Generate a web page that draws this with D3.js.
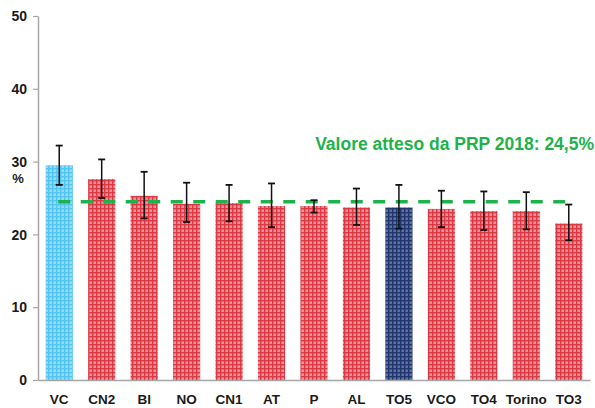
<!DOCTYPE html>
<html><head><meta charset="utf-8">
<script src="https://cdn.jsdelivr.net/npm/d3@7"></script>
<style>html,body{margin:0;padding:0;background:#fff;}svg{display:block;}</style>
</head><body>
<svg id="chart" width="595" height="408"></svg>
<script>
const categories = ["VC","CN2","BI","NO","CN1","AT","P","AL","TO5","VCO","TO4","Torino","TO3"];
const values = [29.5, 27.6, 25.3, 24.2, 24.3, 23.9, 23.9, 23.7, 23.7, 23.5, 23.2, 23.2, 21.5];
const lowerCI = [26.8, 25.0, 22.2, 21.7, 21.8, 21.0, 23.0, 21.3, 20.8, 21.0, 20.6, 20.7, 19.2];
const upperCI = [32.2, 30.3, 28.6, 27.1, 26.8, 27.0, 24.7, 26.3, 26.8, 26.0, 25.9, 25.8, 24.1];
const barGroup = ["blue","red","red","red","red","red","red","red","navy","red","red","red","red"];
const yTicks = [0, 10, 20, 30, 40, 50];
const target = 24.5;
const targetLabel = "Valore atteso da PRP 2018: 24,5%";
const yLabel = "%";

const svg = d3.select("#chart");
const defs = svg.append("defs");
const pats = {
  blue: {bg: "#93dbf8", line: "#52c5f0"},
  red: {bg: "#ee9097", line: "#db3a45"},
  navy: {bg: "#5a6fa6", line: "#22366c"}
};
Object.entries(pats).forEach(([k, c]) => {
  const p = defs.append("pattern").attr("id", "pat-" + k)
    .attr("patternUnits", "userSpaceOnUse").attr("width", 4).attr("height", 4);
  p.append("rect").attr("width", 4).attr("height", 4).attr("fill", c.bg);
  p.append("rect").attr("x", 0).attr("y", 0).attr("width", 1.4).attr("height", 4).attr("fill", c.line);
  p.append("rect").attr("x", 0).attr("y", 0).attr("width", 4).attr("height", 1.4).attr("fill", c.line);
});

const x = d3.scaleBand().domain(categories).range([38, 590]).paddingInner(0.36).paddingOuter(0.18);
const y = d3.scaleLinear().domain([0, 50]).range([380, 16]);

// y axis
const yAxis = d3.axisLeft(y).tickValues(yTicks).tickSize(5).tickPadding(6).tickSizeOuter(0);
const gy = svg.append("g").attr("transform", "translate(38,0)").call(yAxis);
gy.select(".domain").attr("stroke", "#a6a6a6").attr("stroke-width", 1.5);
gy.selectAll(".tick line").attr("stroke", "#a6a6a6").attr("stroke-width", 1.2);
gy.selectAll(".tick text").attr("fill", "#1a1a1a").attr("font-family", "Liberation Sans, Arial, sans-serif")
  .attr("font-size", 14).attr("font-weight", "bold").attr("dy", "0.34em");

svg.append("text").attr("x", 18).attr("y", 183).attr("text-anchor", "middle")
  .attr("font-family", "Liberation Sans, Arial, sans-serif").attr("font-size", 13).attr("font-weight", "bold")
  .attr("fill", "#1a1a1a").text(yLabel);

// bars
const data = categories.map((c, i) => ({c, v: values[i], lo: lowerCI[i], hi: upperCI[i], g: barGroup[i]}));
svg.append("g").selectAll("rect").data(data).join("rect")
  .attr("x", d => x(d.c)).attr("width", x.bandwidth())
  .attr("y", d => y(d.v)).attr("height", d => y(0) - y(d.v))
  .attr("fill", d => "url(#pat-" + d.g + ")");

// x axis baseline + labels
const xAxis = d3.axisBottom(x).tickSize(0).tickPadding(14).tickSizeOuter(0);
const gx = svg.append("g").attr("transform", "translate(0,380)").call(xAxis);
gx.select(".domain").attr("stroke", "#a6a6a6").attr("stroke-width", 1.5);
gx.selectAll(".tick text").attr("fill", "#1a1a1a").attr("font-family", "Liberation Sans, Arial, sans-serif")
  .attr("font-size", 13.5).attr("font-weight", "bold");

// target dashed line
svg.append("line")
  .attr("x1", x(categories[0]) + x.bandwidth() / 2 - 1)
  .attr("x2", x(categories[categories.length - 1]) + x.bandwidth() / 2 - 3)
  .attr("y1", y(target)).attr("y2", y(target))
  .attr("stroke", "#1db34a").attr("stroke-width", 3.5).attr("stroke-dasharray", "12,10.5");

// error bars
const eb = svg.append("g").attr("stroke", "#111").attr("fill", "none");
data.forEach(d => {
  const cx = x(d.c) + x.bandwidth() / 2;
  eb.append("line").attr("x1", cx).attr("x2", cx).attr("y1", y(d.hi)).attr("y2", y(d.lo)).attr("stroke-width", 1.5);
  eb.append("line").attr("x1", cx - 3.5).attr("x2", cx + 3.5).attr("y1", y(d.hi)).attr("y2", y(d.hi)).attr("stroke-width", 1.8);
  eb.append("line").attr("x1", cx - 3.5).attr("x2", cx + 3.5).attr("y1", y(d.lo)).attr("y2", y(d.lo)).attr("stroke-width", 1.8);
});

// target label
svg.append("text").attr("x", 594).attr("y", 150).attr("text-anchor", "end")
  .attr("font-family", "Liberation Sans, Arial, sans-serif").attr("font-size", 17.5).attr("font-weight", "bold")
  .attr("fill", "#1db34a").text(targetLabel);
</script>
</body></html>
